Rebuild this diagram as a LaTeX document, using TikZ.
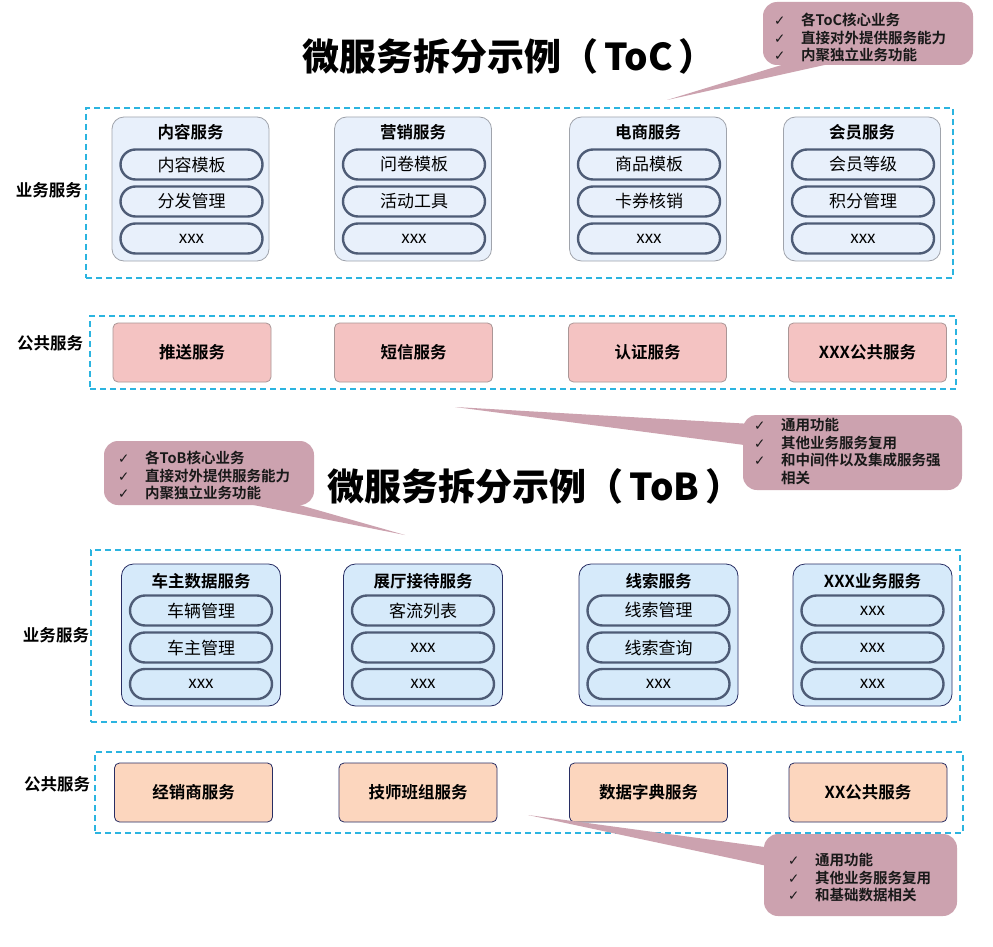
\documentclass[tikz,border=0pt]{standalone}
\usepackage{fontspec}
\setmainfont{Noto Sans CJK SC}[BoldFont={Noto Sans CJK SC Bold}]
\newfontfamily\heavyfont{Noto Sans CJK SC Black}
\newfontfamily\symfont{DejaVu Sans}
\usetikzlibrary{calc}
\definecolor{dashc}{RGB}{43,180,224}
\definecolor{callc}{RGB}{204,162,175}
\definecolor{tocfill}{RGB}{232,240,251}
\definecolor{tocborder}{RGB}{160,164,172}
\definecolor{pillc}{RGB}{78,92,118}
\definecolor{pinkbox}{RGB}{244,195,194}
\definecolor{pinkborder}{RGB}{170,150,150}
\definecolor{tobfill}{RGB}{214,234,250}
\definecolor{navy}{RGB}{40,46,100}
\definecolor{peach}{RGB}{252,214,190}
\newcommand{\ck}{\makebox[27pt][l]{\symfont\fontsize{13.5}{13.5}\selectfont ✓}}
\begin{document}
\begin{tikzpicture}[x=1pt,y=-1pt,
  dashbox/.style={draw=dashc, line width=1.6pt, dash pattern=on 6pt off 4pt, rectangle, inner sep=0pt},
  sidelabel/.style={font=\fontsize{16.5}{16.5}\selectfont\bfseries, inner sep=0pt},
  tcard/.style={rectangle, rounded corners=12pt, draw=tocborder, line width=0.8pt, fill=tocfill, minimum width=157pt, minimum height=144pt, inner sep=0pt},
  bcard/.style={rectangle, rounded corners=12pt, draw=navy, line width=0.8pt, fill=tobfill, minimum width=159pt, minimum height=142pt, inner sep=0pt},
  ctitle/.style={font=\fontsize{16.5}{16.5}\selectfont\bfseries, inner sep=0pt},
  pill/.style={rectangle, rounded corners=15pt, draw=pillc, line width=2.4pt, minimum width=142pt, minimum height=30pt, inner sep=0pt, font=\fontsize{17}{17}\selectfont},
  tpub/.style={rectangle, rounded corners=5pt, draw=pinkborder, line width=0.8pt, fill=pinkbox, minimum width=158pt, minimum height=59pt, inner sep=0pt, font=\fontsize{16.5}{16.5}\selectfont\bfseries},
  bpub/.style={rectangle, rounded corners=5pt, draw=navy, line width=0.8pt, fill=peach, minimum width=158pt, minimum height=59pt, inner sep=0pt, font=\fontsize{16.5}{16.5}\selectfont\bfseries},
  bigtitle/.style={font=\fontsize{37}{37}\selectfont\heavyfont, inner sep=0pt},
  callbody/.style={rectangle, rounded corners=14pt, fill=callc, inner sep=0pt},
  calltext/.style={font=\fontsize{14.5}{17.5}\selectfont\bfseries, align=left, inner sep=0pt, anchor=west, text=black!90}
]
\useasboundingbox (0,0) rectangle (993,947);
\fill[white] (0,0) rectangle (993,947);

% ===== ToC =====
\node[bigtitle] (titleC) at (509,56) {微服务拆分示例（\,ToC\,）};

\node[dashbox, minimum width=867pt, minimum height=170pt] (tocbiz) at (519.5,193) {};
\node[sidelabel] (tocbizL) at (49,190) {业务服务};

\foreach \i/\cx/\t/\a/\b/\c in {1/190.5/内容服务/内容模板/分发管理/xxx,
  2/413/营销服务/问卷模板/活动工具/xxx,
  3/648/电商服务/商品模板/卡券核销/xxx,
  4/862/会员服务/会员等级/积分管理/xxx}{
  \node[tcard] (tc\i) at (\cx,189) {};
  \node[ctitle] (tc\i t) at (\cx,132) {\t};
  \node[pill, fill=tocfill] (tc\i a) at (\cx+1,164.5) {\a};
  \node[pill, fill=tocfill] (tc\i b) at (\cx+1,201.5) {\b};
  \node[pill, fill=tocfill] (tc\i c) at (\cx+1,238.5) {\c};
}

\node[dashbox, minimum width=866pt, minimum height=73pt] (tocpub) at (523,352.5) {};
\node[sidelabel] (tocpubL) at (50,343) {公共服务};
\node[tpub] (tp1) at (192,352.5) {推送服务};
\node[tpub] (tp2) at (413.5,352.5) {短信服务};
\node[tpub] (tp3) at (647.5,352.5) {认证服务};
\node[tpub] (tp4) at (867.5,352.5) {XXX公共服务};

% ===== ToB =====
\node[bigtitle] (titleB) at (535,486) {微服务拆分示例（\,ToB\,）};

\node[dashbox, minimum width=869pt, minimum height=172pt] (tobbiz) at (525.5,636) {};
\node[sidelabel] (tobbizL) at (56,635) {业务服务};

\foreach \i/\cx/\t/\a/\b/\c in {1/201/车主数据服务/车辆管理/车主管理/xxx,
  2/423/展厅接待服务/客流列表/xxx/xxx,
  3/658.5/线索服务/线索管理/线索查询/xxx,
  4/872.5/XXX业务服务/xxx/xxx/xxx}{
  \node[bcard] (bc\i) at (\cx,635) {};
  \node[ctitle] (bc\i t) at (\cx,581) {\t};
  \node[pill, fill=tobfill] (bc\i a) at (\cx,610.5) {\a};
  \node[pill, fill=tobfill] (bc\i b) at (\cx,647.5) {\b};
  \node[pill, fill=tobfill] (bc\i c) at (\cx,684) {\c};
}

\node[dashbox, minimum width=868pt, minimum height=81pt] (tobpub) at (529,792.5) {};
\node[sidelabel] (tobpubL) at (57,784) {公共服务};
\node[bpub] (bp1) at (193.5,792.5) {经销商服务};
\node[bpub] (bp2) at (418,792.5) {技师班组服务};
\node[bpub] (bp3) at (648.5,792.5) {数据字典服务};
\node[bpub] (bp4) at (868,792.5) {XX公共服务};

% ===== Callouts =====
% top ToC
\coordinate (t1tip) at (667,100);
\coordinate (t1a) at (798,60);
\coordinate (t1b) at (847,60);
\fill[callc] (t1a) -- (t1tip) -- (t1b) -- cycle;
\node[callbody, minimum width=210pt, minimum height=63pt] (cToC) at (868,33.5) {};
\node[calltext] (cToCt) at (774,37.5) {\ck 各ToC核心业务\\ \ck 直接对外提供服务能力\\ \ck 内聚独立业务功能};

% middle (ToC public)
\coordinate (t2tip) at (455,407);
\coordinate (t2a) at (752,424);
\coordinate (t2b) at (752,446);
\fill[callc] (t2a) -- (t2tip) -- (t2b) -- cycle;
\node[callbody, minimum width=219pt, minimum height=75pt] (cMid) at (852.5,452.5) {};
\node[calltext] (cMidt) at (754,451.5) {\ck 通用功能\\ \ck 其他业务服务复用\\ \ck 和中间件以及集成服务强\\ \hspace*{27pt}相关};

% ToB
\coordinate (t3tip) at (405,535);
\coordinate (t3a) at (228,500);
\coordinate (t3b) at (282,500);
\fill[callc] (t3a) -- (t3tip) -- (t3b) -- cycle;
\node[callbody, minimum width=210pt, minimum height=64pt] (cToB) at (209,473) {};
\node[calltext] (cToBt) at (118,475.5) {\ck 各ToB核心业务\\ \ck 直接对外提供服务能力\\ \ck 内聚独立业务功能};

% bottom (ToB public)
\coordinate (t4tip) at (528,815);
\coordinate (t4a) at (772,848);
\coordinate (t4b) at (772,867);
\fill[callc] (t4a) -- (t4tip) -- (t4b) -- cycle;
\node[callbody, minimum width=193pt, minimum height=82pt] (cBot) at (860.5,875) {};
\node[calltext] (cBott) at (788,877.5) {\ck 通用功能\\ \ck 其他业务服务复用\\ \ck 和基础数据相关};
\end{tikzpicture}
\end{document}
